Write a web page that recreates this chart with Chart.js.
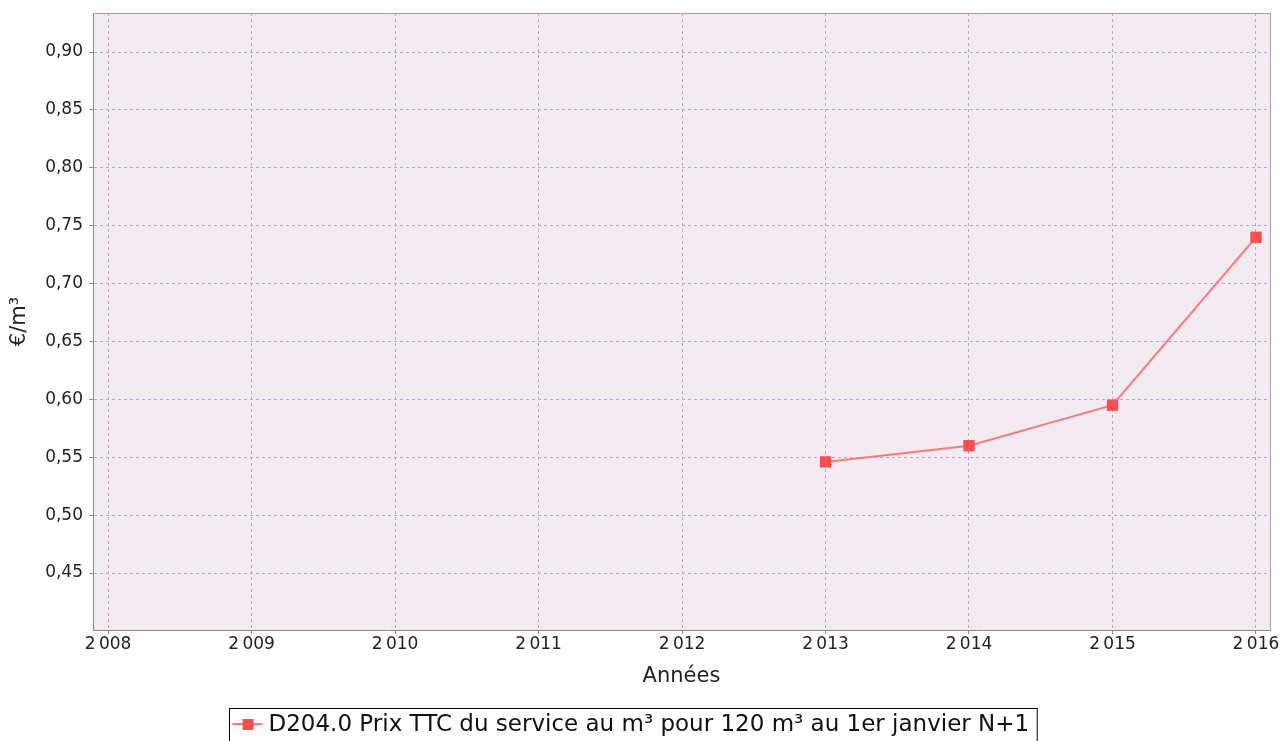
<!DOCTYPE html>
<html>
<head>
<meta charset="utf-8">
<script src="https://cdn.jsdelivr.net/npm/chart.js@4"></script>
<style>
  html, body { margin: 0; padding: 0; background: #fff; }
  #wrap { width: 1285px; height: 741px; position: relative; }
</style>
</head>
<body>
<div id="wrap"><canvas id="priceChart"></canvas></div>
<script>
// Data
const years = [2013, 2014, 2015, 2016];
const prices = [0.546, 0.56, 0.595, 0.74];
const xTicks = [2008, 2009, 2010, 2011, 2012, 2013, 2014, 2015, 2016];
const yTicks = [0.45, 0.50, 0.55, 0.60, 0.65, 0.70, 0.75, 0.80, 0.85, 0.90];
const seriesLabel = 'D204.0 Prix TTC du service au m³ pour 120 m³ au 1er janvier N+1';

const FONT = '"DejaVu Sans", sans-serif';
const RED = '#ff4d4d';

// plot background + top/right border
const frame = {
    id: 'frame',
    beforeDraw(chart) {
        const a = chart.chartArea, ctx = chart.ctx;
        ctx.save();
        ctx.fillStyle = '#f2ebf2';
        ctx.fillRect(a.left, a.top, a.right - a.left, a.bottom - a.top);
        ctx.restore();
    },
    afterDraw(chart) {
        const a = chart.chartArea, ctx = chart.ctx;
        ctx.save();
        ctx.strokeStyle = '#a0a0a0';
        ctx.lineWidth = 1;
        ctx.beginPath();
        ctx.moveTo(a.left, a.top + 0.5);
        ctx.lineTo(a.right + 0.5, a.top + 0.5);
        ctx.lineTo(a.right + 0.5, a.bottom);
        ctx.stroke();
        ctx.restore();
    }
};

// boxed legend at the bottom
const boxLegend = {
    id: 'boxLegend',
    afterDraw(chart) {
        const ctx = chart.ctx;
        const label = chart.data.datasets[0].label;
        ctx.save();
        ctx.font = '23px ' + FONT;
        const tw = ctx.measureText(label).width;
        const w = tw + 47;
        const x = 229.5;
        const y = 708.5;
        const cy = 724;
        ctx.fillStyle = '#fff';
        ctx.fillRect(x, y, w, 40);
        ctx.strokeStyle = '#000';
        ctx.lineWidth = 1;
        ctx.strokeRect(x, y, w, 40);
        ctx.strokeStyle = RED;
        ctx.lineWidth = 1.5;
        ctx.beginPath();
        ctx.moveTo(x + 3, cy);
        ctx.lineTo(x + 33, cy);
        ctx.stroke();
        ctx.fillStyle = RED;
        ctx.fillRect(x + 13, cy - 5, 11, 11);
        ctx.fillStyle = '#111';
        ctx.textBaseline = 'middle';
        ctx.fillText(label, x + 39, cy + 1);
        ctx.restore();
    }
};

const gridOpts = {
    color: '#c6a2c6',
    lineWidth: 1,
    tickLength: 4,
    tickColor: '#888',
    tickBorderDash: []
};

new Chart(document.getElementById('priceChart'), {
    type: 'line',
    data: {
        datasets: [{
            label: seriesLabel,
            data: years.map((y, i) => ({ x: y, y: prices[i] })),
            borderColor: '#ff7a7a',
            borderWidth: 2,
            pointStyle: 'rect',
            pointRadius: 8,
            pointBackgroundColor: RED,
            pointBorderColor: RED,
            pointBorderWidth: 0,
            tension: 0
        }]
    },
    options: {
        responsive: true,
        maintainAspectRatio: false,
        animation: false,
        layout: { padding: { top: 13, right: 15, left: 0, bottom: 0 } },
        plugins: {
            legend: { display: false },
            tooltip: { enabled: false }
        },
        scales: {
            x: {
                type: 'linear',
                min: 2007.895,
                max: 2016.098,
                afterBuildTicks: s => { s.ticks = xTicks.map(v => ({ value: v })); },
                afterFit: s => { s.height = 111; s.paddingLeft = 0; s.paddingRight = 0; },
                ticks: {
                    color: '#222',
                    font: { family: FONT, size: 17 },
                    padding: 0,
                    maxRotation: 0,
                    autoSkip: false,
                    callback: v => String(v).replace(/^(\d)(\d{3})$/, '$1\u2009$2')
                },
                grid: gridOpts,
                border: { color: '#888', width: 1, dash: [3, 3] },
                title: {
                    display: true,
                    text: 'Années',
                    color: '#222',
                    font: { family: FONT, size: 21 },
                    padding: { top: 0, bottom: 52 }
                }
            },
            y: {
                min: 0.4008,
                max: 0.9337,
                afterBuildTicks: s => { s.ticks = yTicks.map(v => ({ value: v })); },
                afterFit: s => { s.width = 93; s.paddingTop = 0; s.paddingBottom = 0; },
                ticks: {
                    color: '#222',
                    font: { family: FONT, size: 17 },
                    padding: 6,
                    callback: v => v.toFixed(2).replace('.', ',')
                },
                grid: gridOpts,
                border: { color: '#888', width: 1, dash: [3, 3] },
                title: {
                    display: true,
                    text: '€/m³',
                    color: '#222',
                    font: { family: FONT, size: 21 },
                    padding: { top: 7, bottom: 0 }
                }
            }
        }
    },
    plugins: [frame, boxLegend]
});
</script>
</body>
</html>
